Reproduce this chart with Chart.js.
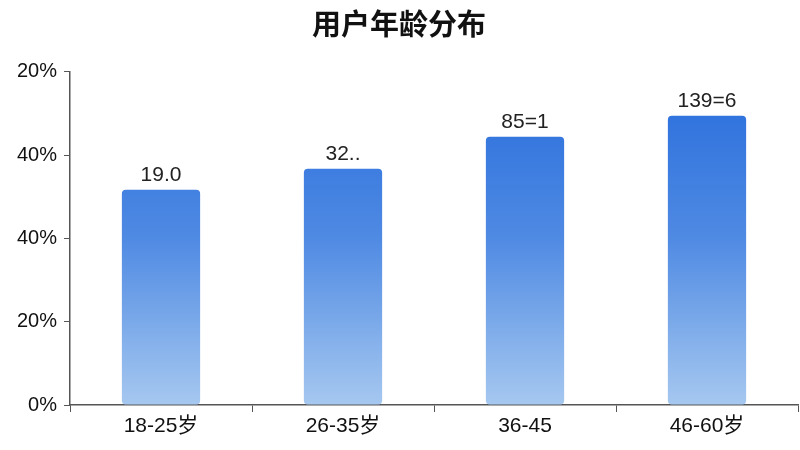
<!DOCTYPE html>
<html>
<head>
<meta charset="utf-8">
<script src="https://cdn.jsdelivr.net/npm/chart.js@4"></script>
<style>
  html, body { margin: 0; padding: 0; background: #fff; }
  #wrap { width: 800px; height: 450px; }
</style>
</head>
<body>
<div id="wrap"><canvas id="ageChart" width="800" height="450"></canvas></div>
<script>
  var categories = ['18-25岁', '26-35岁', '36-45', '46-60岁'];
  var barValues = [64.6, 70.9, 80.5, 86.8];
  var valueLabels = ['19.0', '32..', '85=1', '139=6'];
  var yTickLabels = ['0%', '20%', '40%', '40%', '20%'];

  var fontFamily = '"Liberation Sans", Arial, "Noto Sans CJK SC", sans-serif';

  // 柱子上方的数值文字
  var valueLabelPlugin = {
    id: 'valueLabels',
    afterDatasetsDraw: function(chart) {
      var ctx = chart.ctx;
      var meta = chart.getDatasetMeta(0);
      ctx.save();
      ctx.font = '21px ' + fontFamily;
      ctx.fillStyle = '#222';
      ctx.textAlign = 'center';
      ctx.textBaseline = 'alphabetic';
      meta.data.forEach(function(bar, i) {
        ctx.fillText(valueLabels[i], bar.x, bar.y - 9);
      });
      ctx.restore();
    }
  };

  function barGradient(context) {
    var chart = context.chart;
    var area = chart.chartArea;
    if (!area) return '#3a7be0';
    var g = chart.ctx.createLinearGradient(0, area.top, 0, area.bottom);
    g.addColorStop(0, '#276cdc');
    g.addColorStop(0.5, '#4f8ae3');
    g.addColorStop(1, '#a6c8f0');
    return g;
  }

  var ctx = document.getElementById('ageChart').getContext('2d');
  var ageChart = new Chart(ctx, {
    type: 'bar',
    data: {
      labels: categories,
      datasets: [{
        data: barValues,
        backgroundColor: barGradient,
        borderRadius: 4,
        borderSkipped: false,
        categoryPercentage: 0.86,
        barPercentage: 0.5
      }]
    },
    options: {
      responsive: false,
      animation: false,
      layout: { padding: { left: 0, right: 2, top: 0, bottom: 0 } },
      plugins: {
        legend: { display: false },
        tooltip: { enabled: false },
        title: {
          display: true,
          text: '用户年龄分布',
          color: '#111',
          font: { family: fontFamily, size: 29, weight: 'bold' },
          padding: { top: 10, bottom: 27 }
        }
      },
      scales: {
        x: {
          grid: { display: true, drawOnChartArea: false, drawTicks: true, tickLength: 7, color: '#555' },
          border: { color: '#555', width: 1.5 },
          ticks: { color: '#111', font: { family: fontFamily, size: 21 }, padding: 2 },
          afterFit: function(scale) { scale.height = 45; }
        },
        y: {
          min: 0,
          max: 100,
          grid: { display: true, drawOnChartArea: false, drawTicks: true, tickLength: 6, color: '#555' },
          border: { color: '#555', width: 1.5 },
          ticks: {
            stepSize: 25,
            color: '#111',
            padding: 7,
            font: { family: fontFamily, size: 20 },
            callback: function(value, index) { return yTickLabels[index]; }
          },
          afterFit: function(scale) { scale.width = 70; }
        }
      }
    },
    plugins: [valueLabelPlugin]
  });
</script>
</body>
</html>
